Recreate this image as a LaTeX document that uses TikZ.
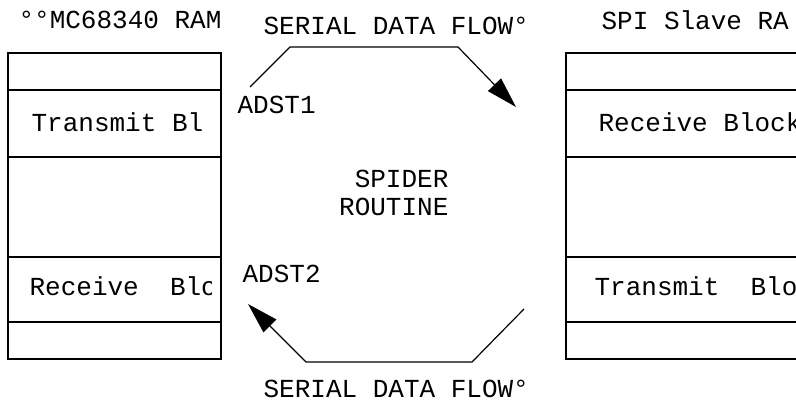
\documentclass[tikz,border=0pt]{standalone}
\usepackage{fontspec}
\setmainfont{Liberation Mono}
\usetikzlibrary{positioning,arrows.meta}

\begin{document}
\begin{tikzpicture}[x=0.5pt, y=-0.5pt, line width=0.6pt,
        txt/.style={inner sep=0pt, anchor=base west, font=\fontsize{13}{14}\selectfont},
        memrow/.style={draw, inner sep=0pt, outer sep=0pt, minimum width=#1},
        flow/.style={-{Triangle[length=15.5pt, width=9pt]}, line width=0.6pt},
    ]
    \useasboundingbox (0,0) rectangle (796,401);

    % MC68340 RAM (left)
    \node[txt] (ramtitle) at (18,29) {°°MC68340 RAM};
    \node[memrow=106.5pt, minimum height=18.5pt, anchor=north west] (ml1) at (8,53) {};
    \node[memrow=106.5pt, minimum height=33.5pt, below=0pt of ml1] (ml2) {};
    \node[memrow=106.5pt, minimum height=50pt, below=0pt of ml2] (ml3) {};
    \node[memrow=106.5pt, minimum height=32.5pt, below=0pt of ml3] (ml4) {};
    \node[memrow=106.5pt, minimum height=18.5pt, below=0pt of ml4] (ml5) {};
    \node[txt] (xmitl) at (31,131) {Transmit Bl};
    \begin{scope}
        \clip (ml4.north west) rectangle ([xshift=-5pt]ml4.south east);
        \node[txt] (rcvl) at (29,295) {Receive~~Blo};
    \end{scope}

    % SPI slave RAM (right)
    \node[txt] (slavetitle) at (601,30) {SPI Slave RA};
    \node[memrow=132pt, minimum height=18.5pt, anchor=north west] (mr1) at (566,53) {};
    \node[memrow=132pt, minimum height=33.5pt, below=0pt of mr1] (mr2) {};
    \node[memrow=132pt, minimum height=50pt, below=0pt of mr2] (mr3) {};
    \node[memrow=132pt, minimum height=32.5pt, below=0pt of mr3] (mr4) {};
    \node[memrow=132pt, minimum height=18.5pt, below=0pt of mr4] (mr5) {};
    \node[txt] (rcvr) at (598,131) {Receive Block};
    \node[txt] (xmitr) at (594,295) {Transmit~~Block};

    % Spider routine
    \node[txt, anchor=base east] (spider) at (449,187) {SPIDER};
    \node[txt, anchor=base east] (routine) at (449,215) {ROUTINE};
    \node[txt] (adst1) at (237,113) {ADST1};
    \node[txt] (adst2) at (242,282) {ADST2};

    % Serial data flow
    \node[txt] (flowtop) at (263,35) {SERIAL DATA FLOW°};
    \node[txt] (flowbot) at (263,397) {SERIAL DATA FLOW°};
    \coordinate (t0) at (250,87);
    \coordinate (t1) at (290,47);
    \coordinate (t2) at (458,47);
    \coordinate (t3) at (516,107);
    \coordinate (b0) at (524,309);
    \coordinate (b1) at (472,362);
    \coordinate (b2) at (306,362);
    \coordinate (b3) at (248,304);
    \draw[flow] (t0) -- (t1) -- (t2) -- (t3);
    \draw[flow] (b0) -- (b1) -- (b2) -- (b3);

\end{tikzpicture}
\end{document}
